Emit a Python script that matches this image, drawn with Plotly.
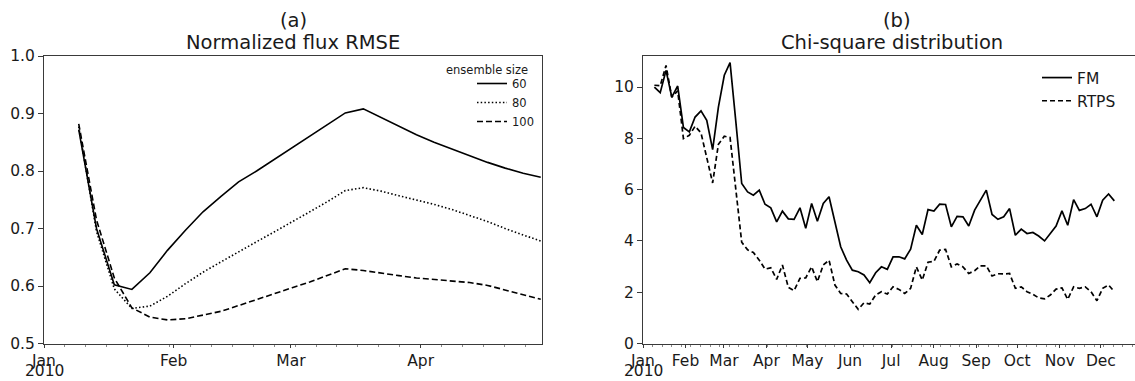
import plotly.graph_objects as go
import pandas as pd

# ---------------- data ----------------
BASE = pd.Timestamp("2010-01-01")

# observation times, days after 1 Jan 2010
obs_day = [8.3, 12.55, 16.8, 21.0, 25.3, 29.5, 33.8, 38.0, 42.3, 46.5,
           50.8, 55.0, 59.3, 63.5, 67.8, 72.0, 76.3, 80.5, 84.8, 89.0,
           93.2, 97.5, 101.7, 106.0, 110.2, 114.5, 118.7, 123.0, 127.2, 131.5,
           135.7, 140.0, 144.2, 148.5, 152.7, 157.0, 161.2, 165.4, 169.7, 173.9,
           178.2, 182.4, 186.7, 190.9, 195.2, 199.4, 203.7, 207.9, 212.2, 216.4,
           220.7, 224.9, 229.1, 233.4, 237.6, 241.9, 246.1, 250.4, 254.6, 258.9,
           263.1, 267.4, 271.6, 275.9, 280.1, 284.4, 288.6, 292.9, 297.1, 301.3,
           305.6, 309.8, 314.1, 318.3, 322.6, 326.8, 331.1, 335.3, 339.6, 343.8]

# panel (a): normalized flux RMSE for three ensemble sizes (first 27 times)
rmse_day = obs_day[:27]
rmse_60 = [0.872, 0.700, 0.602, 0.594, 0.623, 0.662, 0.697, 0.729, 0.756, 0.781,
           0.800, 0.820, 0.840, 0.861, 0.882, 0.901, 0.908, 0.893, 0.878, 0.863,
           0.850, 0.838, 0.826, 0.815, 0.805, 0.796, 0.789]
rmse_80 = [0.877, 0.695, 0.595, 0.561, 0.565, 0.582, 0.604, 0.624, 0.642, 0.660,
           0.677, 0.694, 0.711, 0.729, 0.747, 0.766, 0.771, 0.765, 0.757, 0.750,
           0.742, 0.733, 0.723, 0.712, 0.700, 0.689, 0.678]
rmse_100 = [0.882, 0.715, 0.614, 0.562, 0.546, 0.541, 0.543, 0.549, 0.556, 0.566,
            0.576, 0.587, 0.597, 0.607, 0.619, 0.630, 0.627, 0.622, 0.618, 0.614,
            0.611, 0.609, 0.606, 0.601, 0.593, 0.585, 0.577]
ens_labels = ["60", "80", "100"]

# panel (b): chi-square statistic
chi_fm = [10.00, 9.78, 10.65, 9.61, 10.04, 8.42, 8.25, 8.83, 9.07, 8.70,
          7.56, 9.22, 10.46, 10.95, 8.60, 6.24, 5.91, 5.78, 5.98, 5.43,
          5.29, 4.74, 5.16, 4.86, 4.84, 5.29, 4.49, 5.46, 4.77, 5.46,
          5.72, 4.74, 3.77, 3.25, 2.86, 2.80, 2.67, 2.37, 2.76, 2.99,
          2.89, 3.38, 3.38, 3.30, 3.68, 4.61, 4.25, 5.22, 5.16, 5.43,
          5.42, 4.55, 4.96, 4.94, 4.58, 5.20, 5.61, 5.98, 5.03, 4.84,
          4.94, 5.26, 4.22, 4.46, 4.29, 4.33, 4.19, 4.00, 4.29, 4.58,
          5.17, 4.61, 5.61, 5.19, 5.26, 5.43, 4.94, 5.59, 5.83, 5.56]
chi_rtps = [10.07, 10.05, 10.84, 9.60, 9.85, 7.99, 8.12, 8.47, 8.21, 7.27,
            6.26, 7.77, 8.08, 8.03, 6.00, 3.95, 3.65, 3.55, 3.25, 2.90,
            2.95, 2.50, 3.06, 2.19, 2.06, 2.54, 2.56, 2.99, 2.41, 3.06,
            3.25, 2.28, 1.95, 1.93, 1.63, 1.33, 1.59, 1.54, 1.89, 2.02,
            1.93, 2.21, 2.11, 1.95, 2.15, 2.99, 2.47, 3.17, 3.20, 3.64,
            3.67, 2.99, 3.10, 2.99, 2.73, 2.84, 3.03, 3.03, 2.63, 2.72,
            2.71, 2.73, 2.15, 2.21, 2.02, 1.92, 1.78, 1.74, 1.89, 2.12,
            2.17, 1.72, 2.21, 2.15, 2.21, 2.02, 1.67, 2.15, 2.28, 2.02]
chi_labels = ["FM", "RTPS"]

months_a = ["2010-01-01", "2010-02-01", "2010-03-01", "2010-04-01"]
months_a_text = ["Jan", "Feb", "Mar", "Apr"]
months_b = ["2010-%02d-01" % m for m in range(1, 13)]
months_b_text = ["Jan", "Feb", "Mar", "Apr", "May", "Jun", "Jul",
                 "Aug", "Sep", "Oct", "Nov", "Dec"]
year_label = "2010"
yticks_a = [0.5, 0.6, 0.7, 0.8, 0.9, 1.0]
yticks_b = [0, 2, 4, 6, 8, 10]

# ---------------- figure ----------------
W, H = 1135, 381
FONT = "DejaVu Sans"
AX = "#3a3a3a"
TXT = "#1a1a1a"
TICK_SIZE = 15.5


def to_dates(days):
    return [BASE + pd.Timedelta(days=d) for d in days]


def px_x(v):
    return v / W


def px_y(v):
    return 1 - v / H


fig = go.Figure()
da = to_dates(rmse_day)
styles_a = [dict(color="black", width=1.6),
            dict(color="black", width=1.6, dash="1.5px,2.2px"),
            dict(color="black", width=1.6, dash="6px,3px")]
for lab, ys, st in zip(ens_labels, [rmse_60, rmse_80, rmse_100], styles_a):
    fig.add_trace(go.Scatter(x=da, y=ys, mode="lines", name=lab, line=st,
                             xaxis="x", yaxis="y", legend="legend",
                             hoverinfo="skip"))

db = to_dates(obs_day)
styles_b = [dict(color="black", width=1.7),
            dict(color="black", width=1.7, dash="5px,3px")]
for lab, ys, st in zip(chi_labels, [chi_fm, chi_rtps], styles_b):
    fig.add_trace(go.Scatter(x=db, y=ys, mode="lines", name=lab, line=st,
                             xaxis="x2", yaxis="y2", legend="legend2",
                             hoverinfo="skip"))

tickfont = dict(family=FONT, size=TICK_SIZE, color=TXT)
ydom = [px_y(343.5), px_y(56)]

common_x = dict(type="date", showgrid=False, showline=True, linecolor=AX,
                linewidth=1, ticks="outside", ticklen=3, tickcolor=AX,
                tickfont=tickfont, zeroline=False, automargin=False)
common_y = dict(showgrid=False, showline=True, linecolor=AX, linewidth=1,
                ticks="outside", ticklen=5, tickcolor=AX, tickfont=tickfont,
                zeroline=False, automargin=False)

fig.update_layout(
    width=W, height=H, autosize=False,
    margin=dict(l=0, r=0, t=0, b=0, pad=0),
    paper_bgcolor="white", plot_bgcolor="white",
    font=dict(family=FONT, color=TXT),
    xaxis=dict(common_x, domain=[px_x(44), px_x(542)], anchor="y",
               range=["2010-01-01", "2010-04-30"], mirror=True,
               tickvals=months_a, ticktext=months_a_text,
               minor=dict(ticks="outside", ticklen=2, tickcolor="#888",
                          dtick=5 * 86400000, tick0="2010-01-01")),
    yaxis=dict(common_y, domain=ydom, anchor="x", range=[0.5, 1.0],
               mirror=True, tickvals=yticks_a,
               ticktext=["%.1f" % v for v in yticks_a]),
    xaxis2=dict(common_x, domain=[px_x(643), 1.0], anchor="y2",
                range=["2010-01-01", "2010-12-25 21:00"], mirror=True,
                tickvals=months_b, ticktext=months_b_text,
                minor=dict(ticks="outside", ticklen=2, tickcolor="#888",
                           dtick=7 * 86400000, tick0="2010-01-01")),
    yaxis2=dict(common_y, domain=ydom, anchor="x2", range=[0, 11.21],
                mirror=False, tickvals=yticks_b,
                ticktext=[str(v) for v in yticks_b]),
    legend=dict(x=px_x(472), y=px_y(69), xanchor="left", yanchor="top",
                bgcolor="rgba(0,0,0,0)", itemwidth=30,
                font=dict(family=FONT, size=11.5, color=TXT),
                tracegroupgap=0),
    legend2=dict(x=px_x(1037), y=px_y(61), xanchor="left", yanchor="top",
                 bgcolor="rgba(0,0,0,0)", itemwidth=30,
                 font=dict(family=FONT, size=TICK_SIZE, color=TXT)),
    showlegend=True,
)

title_font = dict(family=FONT, size=19.5, color=TXT)
annos = [
    dict(text="(a)", x=px_x(293), y=px_y(20)),
    dict(text="Normalized flux RMSE", x=px_x(293), y=px_y(42)),
    dict(text="(b)", x=px_x(897), y=px_y(20)),
    dict(text="Chi-square distribution", x=px_x(892), y=px_y(42)),
]
for a in annos:
    fig.add_annotation(xref="paper", yref="paper", xanchor="center",
                       yanchor="middle", showarrow=False, font=title_font, **a)
fig.add_annotation(text="ensemble size", xref="paper", yref="paper",
                   x=px_x(487), y=px_y(70), xanchor="center", yanchor="middle",
                   showarrow=False, font=dict(family=FONT, size=11.5, color=TXT))
# year under the first month tick of each panel
for xr in ["x", "x2"]:
    fig.add_annotation(text=year_label, xref=xr, yref="paper", x="2010-01-01",
                       y=px_y(381), xanchor="center", yanchor="bottom",
                       showarrow=False, font=tickfont, borderpad=0)

fig.write_html("out.html", config={"displayModeBar": False},
               post_script="document.body.style.margin='0px';")
